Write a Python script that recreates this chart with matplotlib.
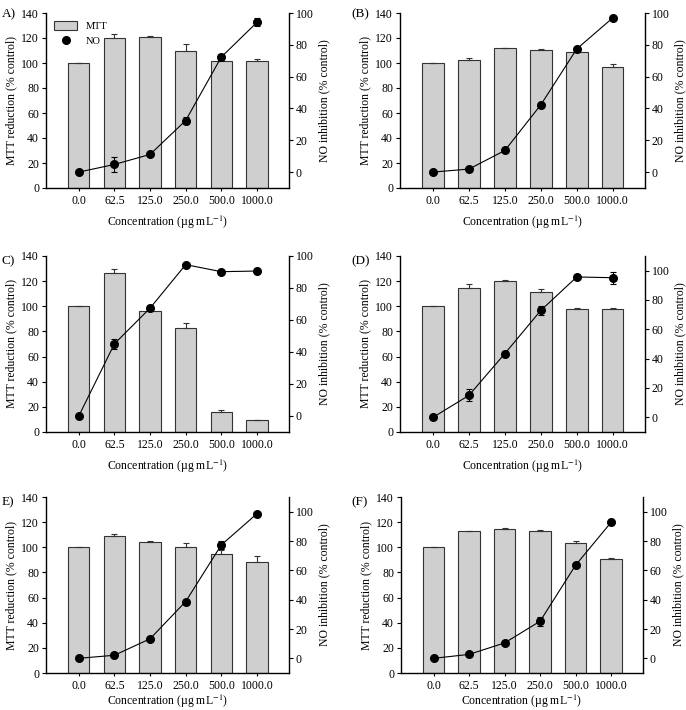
import numpy as np
import matplotlib
matplotlib.use("Agg")
import matplotlib.pyplot as plt
from matplotlib.lines import Line2D
from matplotlib.patches import Patch

plt.rcParams['font.family'] = ['Liberation Serif', 'DejaVu Serif']
plt.rcParams['font.size'] = 8
plt.rcParams['mathtext.fontset'] = 'stix'

conc = ["0.0", "62.5", "125.0", "250.0", "500.0", "1000.0"]
labels = ["A)", "(B)", "C)", "(D)", "E)", "(F)"]

# MTT reduction (% control), bars
mtt_A = [100, 120.0, 121.1, 109.3, 101.3, 101.9]
mtt_B = [100, 102.7, 111.7, 110.4, 108.5, 96.5]
mtt_C = [100, 126.7, 96.4, 82.4, 16.2, 9.3]
mtt_D = [100, 114.5, 119.8, 111.0, 97.5, 97.5]
mtt_E = [100, 108.6, 104.3, 100.3, 95.0, 88.4]
mtt_F = [100, 112.9, 114.7, 112.9, 103.5, 90.8]
mtt_err_A = [0, 3.0, 0.5, 6.0, 1.0, 1.0]
mtt_err_B = [0, 1.5, 0.3, 1.2, 0.3, 2.5]
mtt_err_C = [0, 3.0, 1.5, 4.5, 1.3, 0.4]
mtt_err_D = [0, 3.0, 1.5, 2.5, 0.8, 0.8]
mtt_err_E = [0, 2.0, 0.5, 3.0, 3.0, 5.0]
mtt_err_F = [0, 0.3, 1.0, 0.8, 1.5, 0.7]

# NO inhibition (% control), line
no_A = [0, 4.8, 11.1, 32.4, 72.3, 94.1]
no_B = [0, 1.9, 13.6, 42.3, 77.4, 96.9]
no_C = [0, 45.1, 67.4, 94.6, 90.2, 90.6]
no_D = [0, 15.0, 43.5, 72.9, 95.7, 95.2]
no_E = [0, 2.1, 13.3, 38.7, 77.3, 98.6]
no_F = [0, 2.7, 10.5, 25.3, 63.5, 92.7]
no_err_A = [0, 4.5, 1.0, 2.0, 2.0, 2.5]
no_err_B = [0, 0.5, 1.0, 1.0, 1.0, 1.0]
no_err_C = [0, 3.0, 2.0, 0.5, 0.5, 0.5]
no_err_D = [0, 4.0, 1.5, 3.0, 0.5, 4.0]
no_err_E = [0, 0.5, 0.5, 1.0, 3.0, 0.5]
no_err_F = [0, 0.5, 0.5, 3.0, 0.5, 0.5]

mtt = [mtt_A, mtt_B, mtt_C, mtt_D, mtt_E, mtt_F]
mtt_err = [mtt_err_A, mtt_err_B, mtt_err_C, mtt_err_D, mtt_err_E, mtt_err_F]
no = [no_A, no_B, no_C, no_D, no_E, no_F]
no_err = [no_err_A, no_err_B, no_err_C, no_err_D, no_err_E, no_err_F]
right_top = [100, 100, 100, 110, 110, 110]

W, H = 686, 710
fig = plt.figure(figsize=(W / 100, H / 100), dpi=100)

# axes boxes in pixels: left, right, top, bottom
boxes = [
    (46, 289, 13, 188),
    (400, 645, 13, 188),
    (46, 289, 256, 432),
    (400, 645, 256, 432),
    (46, 289, 497, 673),
    (401, 643, 497, 673),
]
label_pos = [(2, 8), (351, 8), (2, 255), (351, 255), (2, 496), (351, 496)]

x = np.arange(len(conc))
for k in range(6):
    l, r, t, b = boxes[k]
    ax = fig.add_axes([l / W, 1 - b / H, (r - l) / W, (b - t) / H])
    ax.bar(x, mtt[k], width=0.6, color='#cfcfcf', edgecolor='#333333', linewidth=0.8, zorder=1)
    ax.errorbar(x, mtt[k], yerr=[np.zeros(6), mtt_err[k]], fmt='none', ecolor='#333333',
                elinewidth=0.8, capsize=2.5, capthick=0.8, zorder=2)
    ax.set_xlim(-0.92, 5.9)
    ax.set_ylim(0, 140)
    ax.set_yticks(np.arange(0, 141, 20))
    ax.set_xticks(x)
    ax.set_xticklabels(conc)
    ax.spines['top'].set_visible(False)
    ax.spines['right'].set_visible(False)
    for s in ['left', 'bottom']:
        ax.spines[s].set_linewidth(1.0)
    ax.tick_params(direction='out', length=3, width=0.8, labelsize=8.5, pad=2)
    ax.tick_params(axis='x', length=2, pad=3)
    ax.set_ylabel('MTT reduction (% control)', fontsize=8.5, labelpad=3)
    ax.set_xlabel('Concentration (\u00b5g mL$^{-1}$)', fontsize=8.5,
                  labelpad=5 if k < 4 else 0.5)

    ax2 = ax.twinx()
    ax2.errorbar(x, no[k], yerr=no_err[k], fmt='o-', color='black', markersize=5.5,
                 linewidth=0.8, elinewidth=0.8, capsize=2.5, capthick=0.8, zorder=3)
    ax2.set_ylim(-10, right_top[k])
    ax2.set_yticks(np.arange(0, 101, 20))
    ax2.spines['top'].set_visible(False)
    ax2.spines['left'].set_visible(False)
    ax2.spines['bottom'].set_visible(False)
    ax2.spines['right'].set_linewidth(1.0)
    ax2.tick_params(direction='out', length=3, width=0.8, labelsize=8.5, pad=2)
    ax2.set_ylabel('NO inhibition (% control)', fontsize=8.5, labelpad=3)

    lx, ly = label_pos[k]
    fig.text(lx / W, 1 - ly / H, labels[k], fontsize=9.5, ha='left', va='top')

    if k == 0:
        handles = [Patch(facecolor='#cfcfcf', edgecolor='#333333', linewidth=0.8),
                   Line2D([], [], marker='o', color='black', linestyle='none', markersize=5.5)]
        ax.legend(handles, ['MTT', 'NO'], loc='upper left', frameon=False, fontsize=7.5,
                  handlelength=2.2, handleheight=0.9, borderaxespad=0.4, labelspacing=0.5)

fig.savefig('out.png', dpi=100)
